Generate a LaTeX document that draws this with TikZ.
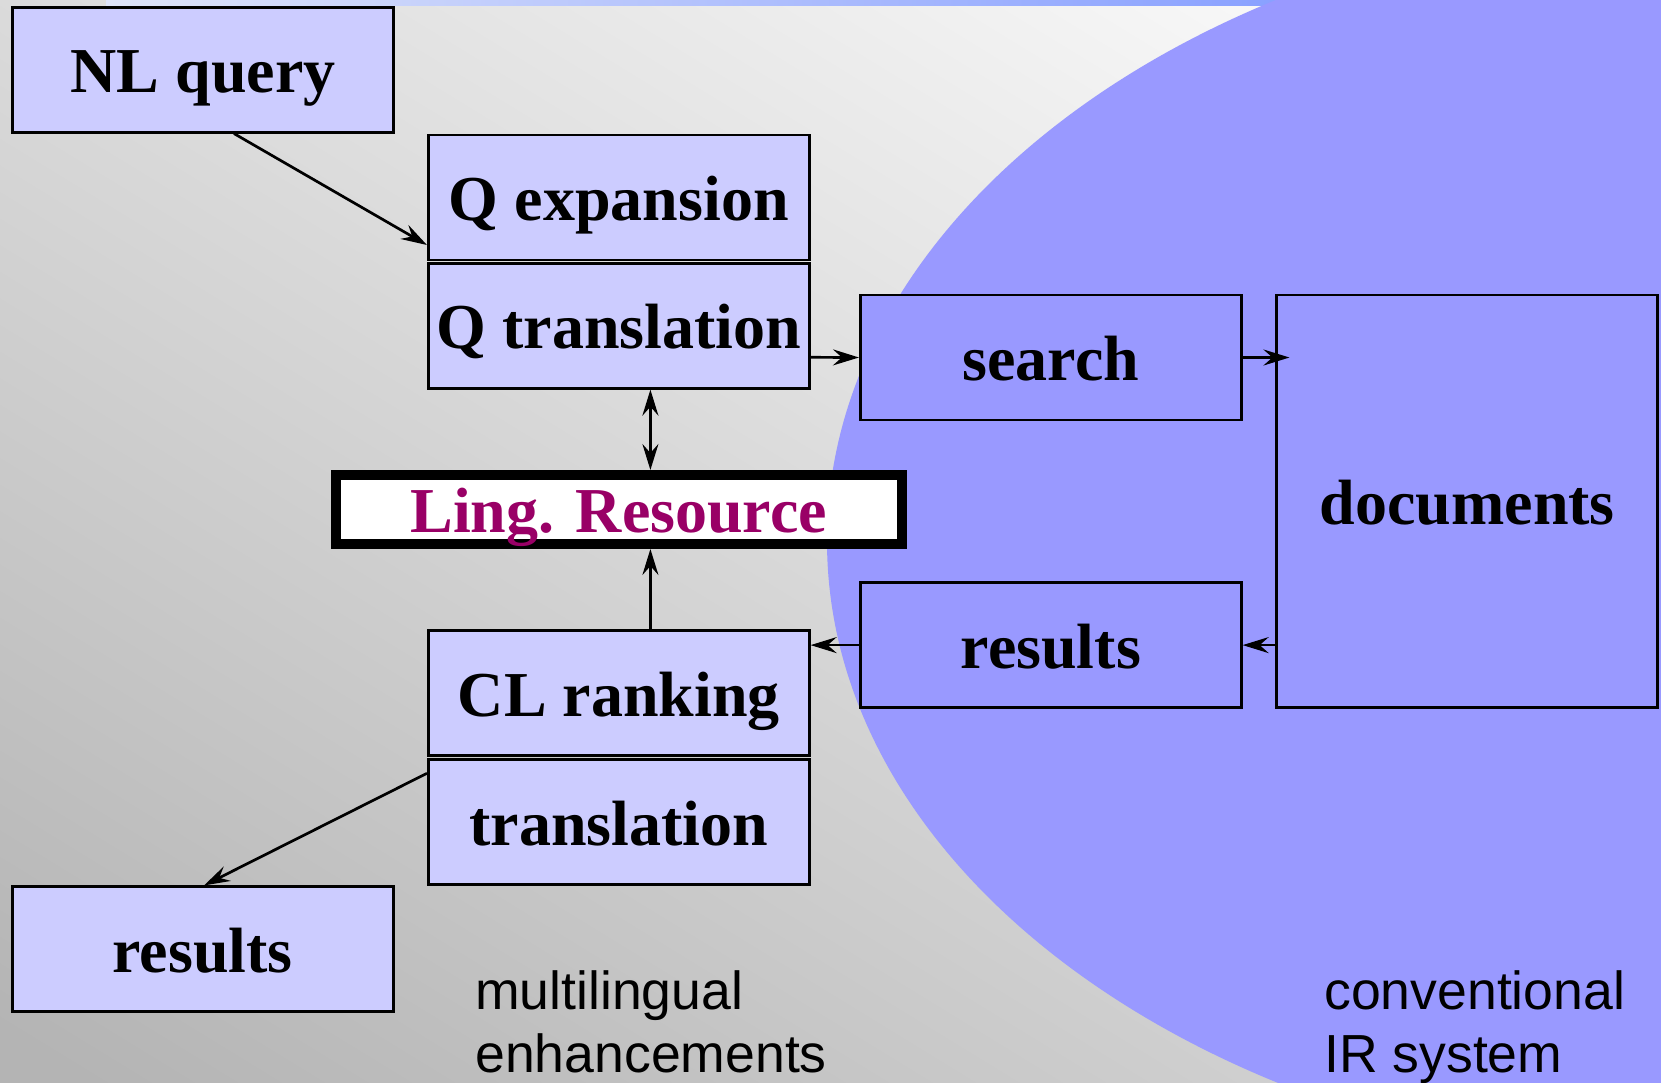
\documentclass[tikz,border=0pt]{standalone}
\usepackage{fontspec}
\setmainfont{Liberation Serif}
\newfontfamily\labelsans{Liberation Sans}
\usetikzlibrary{arrows.meta,calc}
\definecolor{boxlight}{RGB}{204,204,255}
\definecolor{boxblue}{RGB}{153,153,255}
\definecolor{lingtext}{RGB}{153,0,102}
\definecolor{bgdark}{RGB}{180,180,180}
\definecolor{bglight}{RGB}{255,255,255}
\definecolor{stripleft}{RGB}{222,228,250}
\definecolor{stripright}{RGB}{136,160,255}

\begin{document}
\begin{tikzpicture}[x=1pt,y=-1pt,
  box/.style={draw=black, line width=2.7pt, inner sep=0pt,
    minimum width=381pt, minimum height=125pt,
    text height=46pt, text depth=0pt,
    font=\bfseries\fontsize{64}{70}\selectfont},
  lightbox/.style={box, fill=boxlight},
  bluebox/.style={box, fill=boxblue},
  arr/.style={line width=2.7pt, -{Stealth[length=26pt,width=16pt,inset=9pt]}},
  dblarr/.style={line width=2.7pt, {Stealth[length=26pt,width=16pt,inset=9pt]}-{Stealth[length=26pt,width=16pt,inset=9pt]}},
  caption/.style={anchor=base west, inner sep=0pt, font=\labelsans\fontsize{53.6}{63}\selectfont}]

\useasboundingbox (0,0) rectangle (1661,1082);

% background: grey gradient, thin strip along the top, and the IR-system region
\begin{scope}
  \clip (0,0) rectangle (1661,1082);
  \shade[bottom color=bgdark, top color=bglight, shading angle=-31.5]
    (-19.5,-309) rectangle (1680.5,1391);
  \shade[left color=stripleft, right color=stripright] (106,0) rectangle (1290,5.5);
  \fill[boxblue] (1748,541) ellipse [x radius=921, y radius=630];
\end{scope}

% multilingual enhancements
\node[lightbox] (nlq)  at (203,69.7)   {NL query};
\node[lightbox] (qexp) at (618.8,197.4) {Q expansion};
\node[lightbox] (qtr)  at (618.8,325.8) {Q translation};
\node[lightbox] (cl)   at (618.8,693.2) {CL ranking};
\node[lightbox] (tr)   at (618.8,822)   {translation};
\node[lightbox] (resL) at (202.7,949.3) {results};

% linguistic resource
\node[draw=black, line width=10pt, fill=white, inner sep=0pt,
      minimum width=566pt, minimum height=69pt,
      text height=46pt, text depth=0pt, text=lingtext,
      font=\bfseries\fontsize{64}{70}\selectfont]
  (ling) at (618.8,509.5) {Ling. Resource};

% conventional IR system
\node[bluebox] (search) at (1050.8,357.5) {search};
\node[bluebox, minimum height=412.5pt] (docs) at (1467.3,501.2) {documents};
\node[bluebox] (resR) at (1050.8,645.1) {results};

% connectors
\draw[arr] ([xshift=31pt]nlq.south) -- ($(qexp.west)+(0,47.6)$);
\draw[arr] ($(qtr.east)+(0,31.5)$) -- (search.west);
\draw[arr] (search.east) -- ($(docs.west |- search.east)+(14,0)$);
\draw[dblarr] ($(qtr.south)+(31.6,0)$) -- ($(ling.north)+(31.6,0)$);
\draw[arr] ($(cl.north)+(31.6,0)$) -- ($(ling.south)+(31.6,0)$);
\draw[arr] (resR.west) -- (cl.east |- resR.west);
\draw[arr] (docs.west |- resR.east) -- (resR.east);
\draw[arr] ($(tr.west)+(0,-48.7)$) -- ($(resL.north)+(1.3,0)$);

% captions
\node[caption] (ml1) at (475,1009.5) {multilingual};
\node[caption] (ml2) at (475,1072)   {enhancements};
\node[caption] (ir1) at (1324,1009.5) {conventional};
\node[caption] (ir2) at (1324,1072)   {IR system};
\end{tikzpicture}
\end{document}
